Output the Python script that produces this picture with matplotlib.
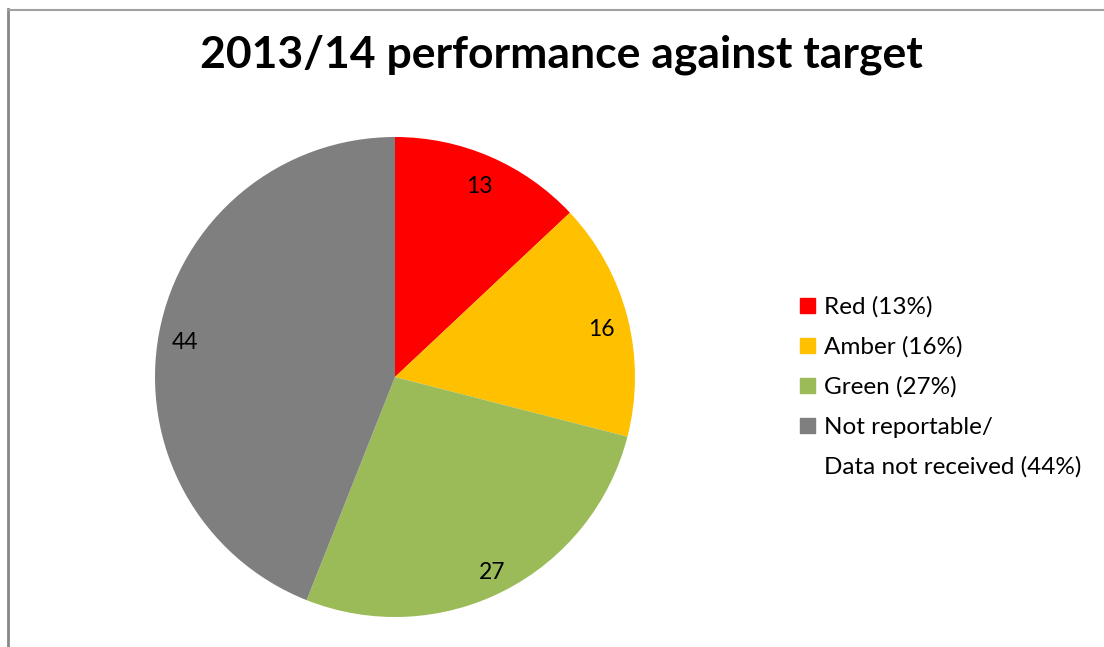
import matplotlib
matplotlib.use("Agg")
import matplotlib.pyplot as plt
from matplotlib.lines import Line2D
from matplotlib.patches import Rectangle

title = "2013/14 performance against target"
values = [13, 16, 27, 44]
colors = ["#FF0000", "#FFC000", "#9BBB59", "#7F7F7F"]
legend_labels = ["Red (13%)", "Amber (16%)", "Green (27%)",
                 "Not reportable/\nData not received (44%)"]

plt.rcParams['font.family'] = ['Lato', 'DejaVu Sans']

W, H = 1104, 647
fig = plt.figure(figsize=(W / 100, H / 100), dpi=100)

# chart area border (left and top)
fig.add_artist(Line2D([8 / W, 8 / W], [0, 1 - 9 / H], color="#888888", lw=2))
fig.add_artist(Line2D([8 / W, 1], [1 - 9.5 / H, 1 - 9.5 / H], color="#A0A0A0", lw=1.5))

cx, cy, r = 395, 377, 240
ax = fig.add_axes([(cx - r) / W, 1 - (cy + r) / H, 2 * r / W, 2 * r / H])
wedges, texts = ax.pie(values, colors=colors, startangle=90, counterclock=False,
                       labels=[str(v) for v in values], labeldistance=0.89,
                       textprops=dict(fontsize=16.5, color="black"))
for t in texts:
    t.set_ha("center")
    t.set_va("center")
    x, y = t.get_position()
    t.set_position((x, y - 0.022))
ax.set_xlim(-1, 1)
ax.set_ylim(-1, 1)
ax.set_aspect("equal")
ax.axis("off")

fig.text(561 / W, 1 - 55 / H, title, ha="center", va="center",
         fontsize=32, fontweight="bold")

# legend
x_sq, x_txt = 800, 824
y0, dy = 305, 40
line = 0
for i, (lab, c) in enumerate(zip(legend_labels, colors)):
    y = y0 + line * dy
    fig.add_artist(Rectangle((x_sq / W, 1 - (y + 7.5) / H), 15 / W, 15 / H,
                             color=c, transform=fig.transFigure))
    for part in lab.split("\n"):
        fig.text(x_txt / W, 1 - (y0 + line * dy) / H, part, ha="left",
                 va="center_baseline", fontsize=17.5)
        line += 1

fig.savefig("out.png", dpi=100)
